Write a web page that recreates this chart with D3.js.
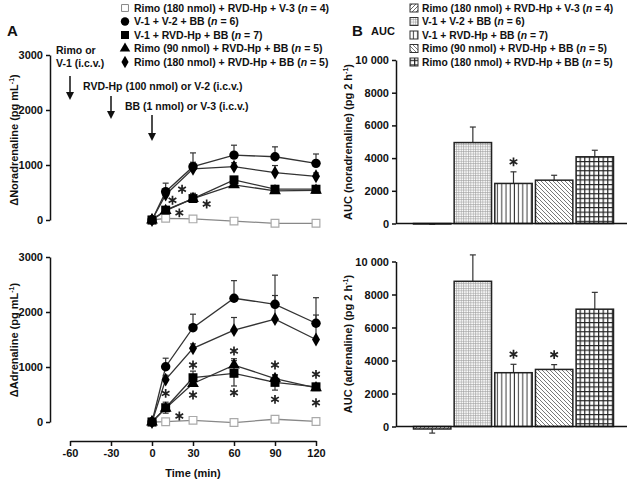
<!DOCTYPE html>
<html>
<head>
<meta charset="utf-8">
<script src="https://cdn.jsdelivr.net/npm/d3@7"></script>
<style>
body { margin: 0; background: #fff; }
text { font-family: "Liberation Sans", Arial, sans-serif; font-weight: bold; fill: #111; }
</style>
</head>
<body>
<svg id="chart" width="629" height="484"></svg>
<script>
// time points (min)
var times = [0, 10, 30, 60, 90, 120];
var timeTicks = [-60, -30, 0, 30, 60, 90, 120];

var groupNames = ["Rimo (180 nmol) + RVD-Hp + V-3", "V-1 + V-2 + BB", "V-1 + RVD-Hp + BB",
                  "Rimo (90 nmol) + RVD-Hp + BB", "Rimo (180 nmol) + RVD-Hp + BB"];
var groupN = [4, 6, 7, 5, 5];

// noradrenaline (pg/mL), per group
var norRimoV3   = [0, 30, 20, -20, -60, -60];
var norV1V2     = [0, 515, 970, 1180, 1150, 1030];
var norV1Rvd    = [0, 180, 390, 730, 560, 560];
var norRimo90   = [0, 170, 390, 640, 530, 540];
var norRimo180  = [0, 460, 930, 970, 860, 795];
var norErrRimoV3  = [0, 0, 0, 0, 0, 0];
var norErrV1V2    = [0, 155, 250, 180, 180, 170];
var norErrV1Rvd   = [0, 40, 95, 60, 40, 40];
var norErrRimo90  = [0, 30, 60, 60, 40, 40];
var norErrRimo180 = [0, 100, 120, 70, 130, 60];

// adrenaline (pg/mL)
var adrRimoV3   = [0, 5, 30, -10, 50, 10];
var adrV1V2     = [0, 1005, 1715, 2250, 2140, 1795];
var adrV1Rvd    = [0, 260, 805, 885, 720, 640];
var adrRimo90   = [0, 250, 700, 1035, 790, 620];
var adrRimo180  = [0, 770, 1340, 1670, 1870, 1500];
var adrErrRimoV3  = [0, 0, 0, 0, 0, 0];
var adrErrV1V2    = [0, 155, 245, 320, 530, 465];
var adrErrV1Rvd   = [0, 100, 120, 230, 140, 60];
var adrErrRimo90  = [0, 60, 80, 115, 60, 40];
var adrErrRimo180 = [0, 80, 80, 230, 430, 445];

// significance stars [time, value]
var norStars = [[15, 360], [22, 560], [20, 130], [40, 290]];
var adrStars = [[10, 520], [20, 110], [30, 1036], [30, 490], [60, 1290], [60, 533],
                [90, 1036], [90, 412], [120, 867], [120, 351]];

var yTicksA = [0, 1000, 2000, 3000];

// AUC (pg 2 h-1)
var aucNor    = [-30, 4950, 2450, 2650, 4080];
var aucNorErr = [20, 950, 710, 300, 400];
var aucNorStar = [false, false, true, false, false];
var aucAdr    = [-150, 8800, 3260, 3460, 7110];
var aucAdrErr = [250, 1600, 510, 290, 1020];
var aucAdrStar = [false, false, true, true, false];
var yTicksB = [0, 2000, 4000, 6000, 8000, 10000];
var yTickLabelsB = ["0", "2000", "4000", "6000", "8000", "10 000"];

var svg = d3.select("#chart");
var defs = svg.append("defs");

// hatch patterns for the AUC bars
function pattern(id, w, draw) {
    var p = defs.append("pattern").attr("id", id)
        .attr("patternUnits", "userSpaceOnUse")
        .attr("width", w).attr("height", w);
    p.append("rect").attr("width", w).attr("height", w).attr("fill", "#fff");
    draw(p, w);
}
pattern("p0", 4, function(p, w) {
    p.append("path").attr("d", "M0," + w + "L" + w + ",0").attr("stroke", "#444").attr("stroke-width", 0.8);
});
pattern("p1", 2.4, function(p, w) {
    p.append("path").attr("d", "M0,0.5H" + w + "M0.5,0V" + w).attr("stroke", "#999").attr("stroke-width", 0.6);
});
pattern("p2", 4.2, function(p, w) {
    p.append("path").attr("d", "M2,0V" + w).attr("stroke", "#333").attr("stroke-width", 1);
});
pattern("p3", 4, function(p, w) {
    p.append("path").attr("d", "M0,0L" + w + "," + w + "M-1,3L1,5M3,-1L5,1").attr("stroke", "#555").attr("stroke-width", 0.8);
});
pattern("p4", 4.6, function(p, w) {
    p.append("path").attr("d", "M0,0.6H" + w + "M0.6,0V" + w).attr("stroke", "#222").attr("stroke-width", 1.2);
});
var patIds = ["p0", "p1", "p2", "p3", "p4"];

var x = d3.scaleLinear().domain([-60, 120]).range([70, 316]);
var yTop = d3.scaleLinear().domain([0, 3000]).range([220, 55]);
var yBot = d3.scaleLinear().domain([0, 3000]).range([422, 257]);

var symbols = [d3.symbolSquare, d3.symbolCircle, d3.symbolSquare, d3.symbolTriangle, d3.symbolDiamond];
var symSizes = [60, 70, 80, 60, 55];

function styleAxis(g, fs) {
    g.attr("color", "#111");
    g.selectAll("path, line").attr("stroke-width", 1.5);
    g.selectAll("text").attr("font-size", fs).attr("font-family", null);
}

function drawStar(g, cx, cy) {
    g.append("path").attr("transform", "translate(" + cx + "," + cy + ")")
        .attr("d", d3.symbol().type(d3.symbolAsterisk).size(55))
        .attr("fill", "none").attr("stroke", "#222").attr("stroke-width", 1.7);
}

function lineSeries(yScale, vals, errs, stars, twoSided) {
    var g = svg.append("g");
    g.append("g").call(d3.axisLeft(yScale).tickValues(yTicksA).tickSize(4).tickSizeOuter(0)
            .tickFormat(String))
        .attr("transform", "translate(50,0)")
        .call(styleAxis, 11);

    // error bars
    vals.forEach(function(v, k) {
        v.forEach(function(d, i) {
            var e = errs[k][i];
            if (!e) return;
            var y1 = yScale(d + e), y0 = twoSided[k] ? yScale(d - e) : yScale(d);
            g.append("line").attr("x1", x(times[i])).attr("x2", x(times[i]))
                .attr("y1", y0).attr("y2", y1).attr("stroke", "#333").attr("stroke-width", 1.2);
            g.append("line").attr("x1", x(times[i]) - 3).attr("x2", x(times[i]) + 3)
                .attr("y1", y1).attr("y2", y1).attr("stroke", "#333").attr("stroke-width", 1.2);
            if (twoSided[k]) {
                g.append("line").attr("x1", x(times[i]) - 3).attr("x2", x(times[i]) + 3)
                    .attr("y1", y0).attr("y2", y0).attr("stroke", "#333").attr("stroke-width", 1.2);
            }
        });
    });

    var line = d3.line().x(function(d, i) { return x(times[i]); }).y(function(d) { return yScale(d); });
    vals.forEach(function(v, k) {
        g.append("path").datum(v).attr("d", line).attr("fill", "none")
            .attr("stroke", k == 0 ? "#888" : "#333").attr("stroke-width", 1.3);
    });

    [0, 3, 4, 1, 2].forEach(function(k) {
        g.selectAll(null).data(vals[k]).enter().append("path")
            .attr("transform", function(d, i) { return "translate(" + x(times[i]) + "," + yScale(d) + ")"; })
            .attr("d", d3.symbol().type(symbols[k]).size(symSizes[k]))
            .attr("fill", k == 0 ? "#fff" : "#000")
            .attr("stroke", k == 0 ? "#aaa" : "none").attr("stroke-width", 1.2);
    });

    stars.forEach(function(s) { drawStar(g, x(s[0]), yScale(s[1])); });
}

lineSeries(yTop, [norRimoV3, norV1V2, norV1Rvd, norRimo90, norRimo180],
    [norErrRimoV3, norErrV1V2, norErrV1Rvd, norErrRimo90, norErrRimo180],
    norStars, [false, false, false, false, false]);
lineSeries(yBot, [adrRimoV3, adrV1V2, adrV1Rvd, adrRimo90, adrRimo180],
    [adrErrRimoV3, adrErrV1V2, adrErrV1Rvd, adrErrRimo90, adrErrRimo180],
    adrStars, [false, false, true, false, false]);

// time axis
svg.append("g").attr("transform", "translate(0,441)")
    .call(d3.axisBottom(x).tickValues(timeTicks).tickSize(5).tickSizeOuter(0).tickFormat(String))
    .call(styleAxis, 11);

// AUC panels
var xb = d3.scaleBand().domain(d3.range(5)).range([413.5, 613.5]).paddingInner(0.08);
var ybTop = d3.scaleLinear().domain([0, 10000]).range([223.5, 60]);
var ybBot = d3.scaleLinear().domain([0, 10000]).range([426.5, 261.5]);

function barPanel(yScale, vals, errs, stars) {
    var g = svg.append("g");
    g.append("g").attr("transform", "translate(396,0)")
        .call(d3.axisLeft(yScale).tickValues(yTicksB).tickSize(4).tickSizeOuter(0)
            .tickFormat(function(d, i) { return yTickLabelsB[i]; }))
        .call(styleAxis, 11);

    vals.forEach(function(v, i) {
        var e = errs[i], cx = xb(i) + xb.bandwidth() / 2;
        var yEnd = v < 0 ? yScale(v - e) : yScale(v + e);
        g.append("line").attr("x1", cx).attr("x2", cx).attr("y1", yScale(v)).attr("y2", yEnd)
            .attr("stroke", "#333").attr("stroke-width", 1.2);
        g.append("line").attr("x1", cx - 3).attr("x2", cx + 3).attr("y1", yEnd).attr("y2", yEnd)
            .attr("stroke", "#333").attr("stroke-width", 1.2);
    });

    g.selectAll(null).data(vals).enter().append("rect")
        .attr("x", function(d, i) { return xb(i); })
        .attr("width", xb.bandwidth())
        .attr("y", function(d) { return Math.min(yScale(d), yScale(0)); })
        .attr("height", function(d) { return Math.abs(yScale(d) - yScale(0)); })
        .attr("fill", function(d, i) { return "url(#" + patIds[i] + ")"; })
        .attr("stroke", "#222").attr("stroke-width", 1.5);

    g.append("line").attr("x1", 396).attr("x2", 627).attr("y1", yScale(0)).attr("y2", yScale(0))
        .attr("stroke", "#111").attr("stroke-width", 1.5);

    vals.forEach(function(v, i) {
        if (!stars[i]) return;
        drawStar(g, xb(i) + xb.bandwidth() / 2, yScale(v + errs[i]) - 10);
    });
}
barPanel(ybTop, aucNor, aucNorErr, aucNorStar);
barPanel(ybBot, aucAdr, aucAdrErr, aucAdrStar);

// axis titles
function supLabel(tx, ty, rot, main, sup, tail) {
    var t = svg.append("text").attr("transform", "translate(" + tx + "," + ty + ")" + (rot ? " rotate(-90)" : ""))
        .attr("text-anchor", "middle").attr("font-size", 11);
    t.append("tspan").text(main);
    if (sup) {
        t.append("tspan").attr("dy", -4).attr("font-size", 7).text(sup);
        t.append("tspan").attr("dy", 4).text(tail);
    }
}
supLabel(18, 140, true, "\u0394Noradrenaline (pg mL", "-1", ")");
supLabel(18, 340, true, "\u0394Adrenaline (pg mL", "-1", ")");
supLabel(352, 142, true, "AUC (noradrenaline) (pg 2 h", "-1", ")");
supLabel(352, 344, true, "AUC (adrenaline) (pg 2 h", "-1", ")");
supLabel(193, 477, false, "Time (min)");

svg.append("text").attr("x", 7).attr("y", 36).attr("font-size", 15).text("A");
svg.append("text").attr("x", 352).attr("y", 36).attr("font-size", 15).text("B");
svg.append("text").attr("x", 371).attr("y", 35).attr("font-size", 11).text("AUC");

// legends
var legY = d3.range(5).map(function(i) { return 8 + i * 13.5; });
groupNames.forEach(function(name, k) {
    svg.append("path").attr("transform", "translate(125," + legY[k] + ")")
        .attr("d", d3.symbol().type(symbols[k]).size(symSizes[k] * 0.8))
        .attr("fill", k == 0 ? "#fff" : "#000").attr("stroke", k == 0 ? "#888" : "none");
    var t = svg.append("text").attr("x", 134).attr("y", legY[k] + 3.5).attr("font-size", 10.5);
    t.append("tspan").text(name + " (");
    t.append("tspan").attr("font-style", "italic").text("n");
    t.append("tspan").text(" = " + groupN[k] + ")");

    svg.append("rect").attr("x", 410).attr("y", legY[k] - 4).attr("width", 8).attr("height", 8)
        .attr("fill", "url(#" + patIds[k] + ")").attr("stroke", "#333").attr("stroke-width", 1);
    var t2 = svg.append("text").attr("x", 422).attr("y", legY[k] + 3.5).attr("font-size", 10.3);
    t2.append("tspan").text(name + " (");
    t2.append("tspan").attr("font-style", "italic").text("n");
    t2.append("tspan").text(" = " + groupN[k] + ")");
});

// injection annotations
function arrow(t, y1, y2) {
    svg.append("line").attr("x1", x(t)).attr("x2", x(t)).attr("y1", y1).attr("y2", y2 - 6)
        .attr("stroke", "#111").attr("stroke-width", 1.5);
    svg.append("path").attr("d", "M" + (x(t) - 4) + "," + (y2 - 8) + "L" + (x(t) + 4) + "," + (y2 - 8) + "L" + x(t) + "," + y2 + "Z")
        .attr("fill", "#111");
}
svg.append("text").attr("x", 56).attr("y", 54).attr("font-size", 10.5).text("Rimo or");
svg.append("text").attr("x", 56).attr("y", 67).attr("font-size", 10.5).text("V-1 (i.c.v.)");
arrow(-60, 76, 100);
svg.append("text").attr("x", 83).attr("y", 90).attr("font-size", 10.5).text("RVD-Hp (100 nmol) or V-2 (i.c.v.)");
arrow(-30, 96, 119);
svg.append("text").attr("x", 125).attr("y", 110).attr("font-size", 10.5).text("BB (1 nmol) or V-3 (i.c.v.)");
arrow(0, 115, 141);
</script>
</body>
</html>
